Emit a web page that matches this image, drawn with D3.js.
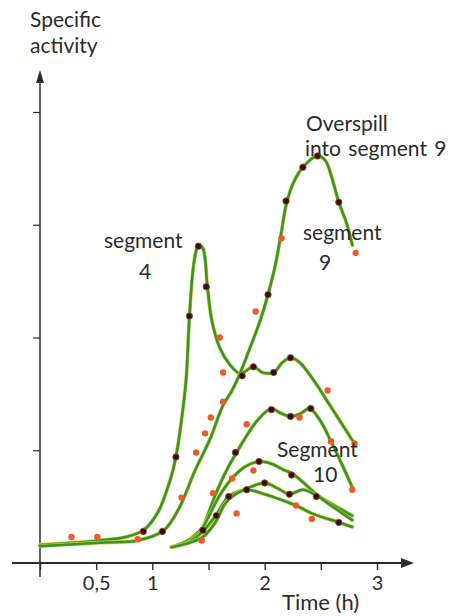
<!DOCTYPE html>
<html><head><meta charset="utf-8">
<script src="https://cdn.jsdelivr.net/npm/d3@7"></script>
<style>html,body{margin:0;padding:0;background:#fff;}svg{display:block;}</style>
</head><body>
<script>
// ---- data (time in h, specific activity in axis units) ----
const seg4T = [0, 0.53, 0.76, 0.92, 1.05, 1.16, 1.21, 1.26, 1.30, 1.33, 1.36, 1.39, 1.41, 1.45, 1.49, 1.53, 1.60, 1.69, 1.78, 1.90, 1.98, 2.08, 2.16, 2.23, 2.31, 2.45, 2.58, 2.78];
const seg4V = [0.16, 0.20, 0.23, 0.29, 0.45, 0.74, 0.94, 1.27, 1.62, 2.18, 2.58, 2.77, 2.82, 2.79, 2.45, 2.15, 1.91, 1.76, 1.68, 1.74, 1.69, 1.69, 1.78, 1.82, 1.78, 1.60, 1.40, 1.09];
const seg9T = [0, 0.53, 0.87, 1.09, 1.17, 1.26, 1.38, 1.51, 1.63, 1.71, 1.78, 1.87, 1.96, 2.03, 2.09, 2.14, 2.19, 2.25, 2.34, 2.47, 2.54, 2.60, 2.66, 2.73, 2.78];
const seg9V = [0.15, 0.18, 0.20, 0.28, 0.37, 0.53, 0.82, 1.09, 1.40, 1.53, 1.68, 1.91, 2.15, 2.38, 2.62, 2.88, 3.17, 3.36, 3.51, 3.61, 3.57, 3.41, 3.20, 3.01, 2.82];
const curveAT = [1.17, 1.29, 1.38, 1.45, 1.51, 1.58, 1.67, 1.75, 1.84, 1.94, 2.06, 2.14, 2.23, 2.31, 2.40, 2.49, 2.59, 2.69, 2.78];
const curveAV = [0.14, 0.18, 0.25, 0.32, 0.47, 0.65, 0.84, 0.98, 1.13, 1.27, 1.37, 1.33, 1.30, 1.32, 1.37, 1.27, 1.08, 0.87, 0.67];
const curveBT = [1.17, 1.32, 1.42, 1.51, 1.60, 1.70, 1.82, 1.95, 2.06, 2.16, 2.25, 2.36, 2.46, 2.62, 2.78];
const curveBV = [0.14, 0.20, 0.27, 0.43, 0.60, 0.74, 0.85, 0.90, 0.88, 0.83, 0.79, 0.70, 0.61, 0.51, 0.42];
const curveCT = [1.17, 1.33, 1.45, 1.57, 1.68, 1.84, 2.00, 2.12, 2.22, 2.34, 2.46, 2.62, 2.78];
const curveCV = [0.14, 0.19, 0.28, 0.43, 0.59, 0.66, 0.71, 0.66, 0.61, 0.65, 0.60, 0.49, 0.38];
const curveDT = [1.17, 1.33, 1.45, 1.56, 1.65, 1.74, 1.84, 2.00, 2.15, 2.28, 2.42, 2.66, 2.78];
const curveDV = [0.14, 0.18, 0.23, 0.36, 0.53, 0.61, 0.65, 0.61, 0.56, 0.51, 0.44, 0.36, 0.32];

const redT = [0.28, 0.51, 0.87, 1.26, 1.39, 1.47, 1.52, 1.63, 1.60, 1.63, 1.92, 2.15, 2.81, 2.56, 2.80, 1.84, 2.31, 2.59, 2.78, 1.54, 1.71, 1.90, 1.75, 1.44, 2.28, 2.42];
const redV = [0.23, 0.23, 0.21, 0.58, 0.98, 1.15, 1.29, 1.43, 2.00, 1.69, 2.23, 2.88, 2.75, 1.53, 1.06, 1.23, 1.29, 1.08, 0.65, 0.62, 0.75, 0.82, 0.44, 0.20, 0.51, 0.39];
const darkT = [0.92, 1.09, 1.21, 1.33, 1.41, 1.48, 1.80, 1.90, 2.08, 2.23, 2.03, 2.19, 2.34, 2.47, 2.66, 1.74, 2.06, 2.23, 2.41, 1.95, 2.24, 1.68, 1.84, 2.00, 2.22, 2.46, 2.66, 1.57, 1.45];
const darkV = [0.28, 0.28, 0.94, 2.19, 2.81, 2.45, 1.66, 1.74, 1.69, 1.82, 2.38, 3.21, 3.51, 3.61, 3.20, 0.98, 1.36, 1.30, 1.37, 0.90, 0.78, 0.59, 0.65, 0.71, 0.61, 0.59, 0.36, 0.42, 0.29];

const xTicks = [0, 0.5, 1, 1.5, 2, 2.5, 3];
const xTickLabels = ["", "0,5", "1", "", "2", "", "3"];
const yTicks = [1, 2, 3, 4];

// ---- drawing ----
const W = 453, H = 616;
const svg = d3.select("body").append("svg").attr("width", W).attr("height", H);
const x = d3.scaleLinear().domain([0, 3]).range([40, 377]);
const y = d3.scaleLinear().domain([0, 4]).range([563, 112]);
const ink = "#2b2b2b";
const font = "Lato, 'Open Sans', sans-serif";

// axes
const xAxis = d3.axisBottom(x).tickValues(xTicks).tickSize(7).tickPadding(6)
  .tickFormat((d, i) => xTickLabels[i]);
const gx = svg.append("g").attr("transform", `translate(0,${y(0)})`).call(xAxis);
gx.select(".domain").remove();
gx.selectAll(".tick line").attr("stroke", ink).attr("stroke-width", 1.4);
gx.selectAll(".tick text").attr("fill", ink).attr("font-family", font).attr("font-size", 20);

const yAxis = d3.axisLeft(y).tickValues(yTicks).tickSize(7).tickFormat("");
const gy = svg.append("g").attr("transform", `translate(${x(0)},0)`).call(yAxis);
gy.select(".domain").remove();
gy.selectAll(".tick line").attr("stroke", ink).attr("stroke-width", 1.2);

// axis lines with arrows
svg.append("line").attr("x1", 12).attr("x2", 404).attr("y1", y(0)).attr("y2", y(0))
  .attr("stroke", ink).attr("stroke-width", 2);
svg.append("path").attr("d", `M414,${y(0)} L401,${y(0) - 5} L401,${y(0) + 5} Z`).attr("fill", ink);
svg.append("line").attr("x1", x(0)).attr("x2", x(0)).attr("y1", 577).attr("y2", 80)
  .attr("stroke", ink).attr("stroke-width", 1.5);
svg.append("path").attr("d", `M${x(0)},70 L${x(0) - 4},83 L${x(0) + 4},83 Z`).attr("fill", ink);

// curves
const line = d3.line().x(d => x(d[0])).y(d => y(d[1])).curve(d3.curveCatmullRom.alpha(0.5));
const curves = [[seg4T, seg4V], [seg9T, seg9V], [curveAT, curveAV], [curveBT, curveBV], [curveCT, curveCV], [curveDT, curveDV]];
const cg = svg.append("g");
curves.forEach(([T, V]) => {
  const pts = T.map((t, i) => [t, V[i]]);
  cg.append("path").attr("d", line(pts)).attr("fill", "none")
    .attr("stroke", "#cfd24a").attr("stroke-width", 3.8).attr("stroke-linecap", "round");
  cg.append("path").attr("d", line(pts)).attr("fill", "none")
    .attr("stroke", "#3a9328").attr("stroke-width", 2.6).attr("stroke-linecap", "round");
});

// points
svg.append("g").selectAll("circle").data(redT.map((t, i) => [t, redV[i]])).join("circle")
  .attr("cx", d => x(d[0])).attr("cy", d => y(d[1])).attr("r", 3.2).attr("fill", "#ef5a2b");
svg.append("g").selectAll("circle").data(darkT.map((t, i) => [t, darkV[i]])).join("circle")
  .attr("cx", d => x(d[0])).attr("cy", d => y(d[1])).attr("r", 3.2)
  .attr("fill", "#2a1214").attr("stroke", "#b0402a").attr("stroke-width", 0.8);

// texts
const txt = (s, tx, ty, size, ws) => svg.append("text").attr("x", tx).attr("y", ty).text(s)
  .attr("font-family", font).attr("font-size", size).attr("fill", ink)
  .attr("word-spacing", ws || 0);
txt("Specific", 30, 27, 21);
txt("activity", 30, 53, 21);
txt("segment", 104, 248, 21);
txt("4", 139, 279, 21);
txt("Overspill", 306, 131, 21);
txt("into segment 9", 305, 156, 21, 2);
txt("segment", 303, 240, 21);
txt("9", 319, 270, 21);
txt("Segment", 277, 457, 21);
txt("10", 313, 482, 21);
txt("Time (h)", 282, 610, 22);
</script>
</body></html>
